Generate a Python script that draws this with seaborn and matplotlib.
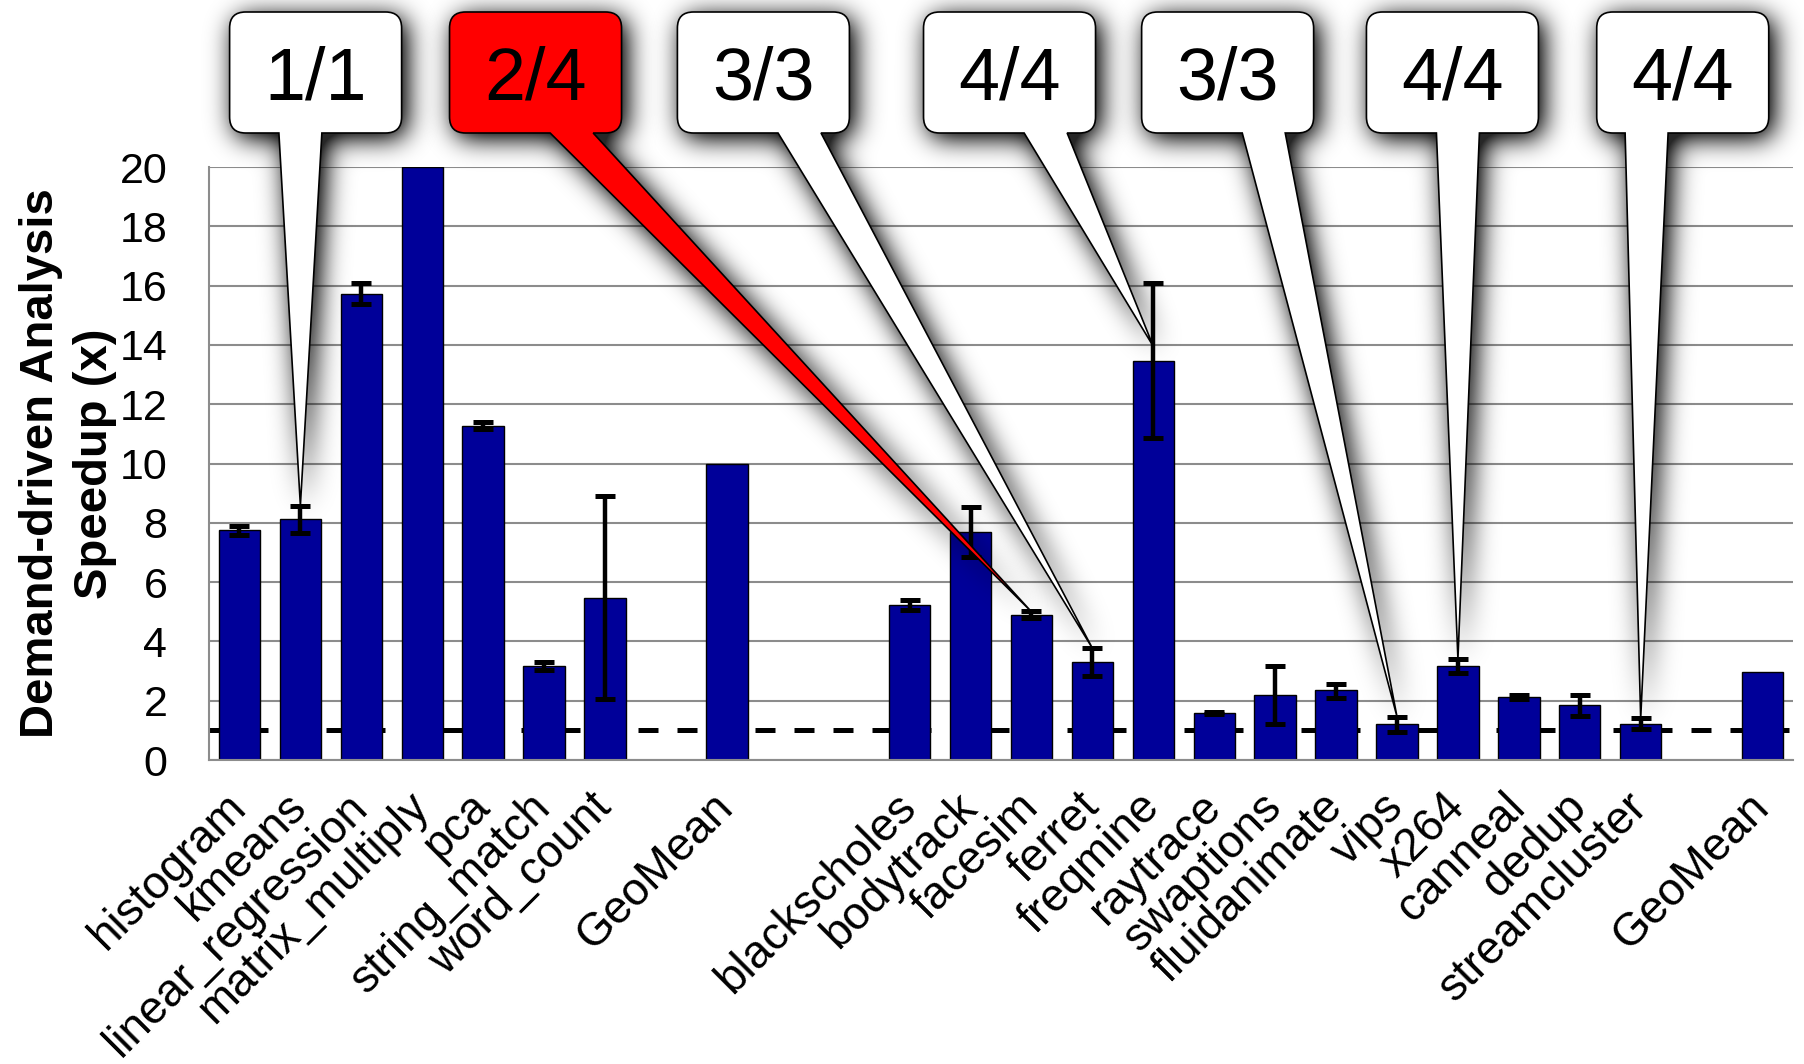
import matplotlib

matplotlib.use("Agg")
import matplotlib.pyplot as plt
import numpy as np
import pandas as pd
import seaborn as sns
from matplotlib.patches import PathPatch
from matplotlib.path import Path

# --------------------------------------------------------------------- #
# Data
# --------------------------------------------------------------------- #
PHOENIX_BENCH = ["histogram", "kmeans", "linear_regression", "matrix_multiply",
                 "pca", "string_match", "word_count"]
PHOENIX_SPEEDUP = [7.75, 8.12, 15.73, 20.0, 11.28, 3.16, 5.47]
PHOENIX_ERR_LOW = [7.59, 7.66, 15.37, np.nan, 11.15, 3.02, 2.05]
PHOENIX_ERR_HIGH = [7.90, 8.58, 16.10, np.nan, 11.40, 3.31, 8.89]
PHOENIX_GEOMEAN = 10.0

PARSEC_BENCH = ["blackscholes", "bodytrack", "facesim", "ferret", "freqmine",
                "raytrace", "swaptions", "fluidanimate", "vips", "x264",
                "canneal", "dedup", "streamcluster"]
PARSEC_SPEEDUP = [5.24, 7.68, 4.88, 3.31, 13.47, 1.58, 2.20, 2.35, 1.20, 3.18,
                  2.13, 1.84, 1.22]
PARSEC_ERR_LOW = [5.07, 6.85, 4.79, 2.84, 10.87, 1.54, 1.22, 2.09, 0.95, 2.95,
                  2.07, 1.48, 1.06]
PARSEC_ERR_HIGH = [5.40, 8.54, 5.01, 3.77, 16.10, 1.63, 3.16, 2.58, 1.46, 3.41,
                   2.18, 2.20, 1.40]
PARSEC_GEOMEAN = 2.97

BASELINE = 1.0

# callouts: text, benchmark pointed at, y value of the pointer tip
CALLOUT_TEXT = ["1/1", "2/4", "3/3", "4/4", "3/3", "4/4", "4/4"]
CALLOUT_TARGET = ["kmeans", "facesim", "ferret", "freqmine", "vips", "x264",
                  "streamcluster"]
CALLOUT_TIP = [8.58, 5.0, 3.77, 13.95, 1.46, 3.41, 1.40]
CALLOUT_HIGHLIGHT = [False, True, False, False, False, False, False]
# layout: box centres in category-slot units
CALLOUT_CENTER = [1.25, 4.86, 8.60, 12.64, 16.22, 19.91, 23.69]

# --------------------------------------------------------------------- #
# Style
# --------------------------------------------------------------------- #
BAR_COLOR = "#000099"
GRID_COLOR = "#8c8c8c"
DPI = 100

sns.set_style("white")
plt.rcParams["font.family"] = ["Liberation Sans", "DejaVu Sans"]
plt.rcParams["text.color"] = "black"
plt.rcParams["axes.labelcolor"] = "black"


def soft_shadow(im, dpi, pad=55, sigma=13, shift=(5, 5), strength=1.2):
    """agg filter: blurred, offset copy of the artist's alpha channel."""
    alpha = np.pad(im[..., 3], pad)
    k = np.exp(-0.5 * (np.arange(-3 * sigma, 3 * sigma + 1) / sigma) ** 2)
    k /= k.sum()
    alpha = np.apply_along_axis(np.convolve, 0, alpha, k, mode="same")
    alpha = np.apply_along_axis(np.convolve, 1, alpha, k, mode="same")
    out = np.zeros(alpha.shape + (4,))
    out[..., 3] = np.clip(alpha * strength, 0, 0.85)
    return out, -pad + shift[0], -pad - shift[1]


def callout_path(left, bottom, width, height, r, base_lo, base_hi, tip):
    L, B, R, T = left, bottom, left + width, bottom + height
    verts = [(L + r, T), (R - r, T), (R, T), (R, T - r), (R, B + r), (R, B),
             (R - r, B), (base_hi, B), tip, (base_lo, B), (L + r, B), (L, B),
             (L, B + r), (L, T - r), (L, T), (L + r, T), (L + r, T)]
    codes = [Path.MOVETO, Path.LINETO, Path.CURVE3, Path.CURVE3, Path.LINETO,
             Path.CURVE3, Path.CURVE3, Path.LINETO, Path.LINETO, Path.LINETO,
             Path.LINETO, Path.CURVE3, Path.CURVE3, Path.LINETO, Path.CURVE3,
             Path.CURVE3, Path.CLOSEPOLY]
    return np.array(verts, dtype=float), codes


def main() -> None:
    order = (PHOENIX_BENCH + ["_gap1", "Phoenix GeoMean", "_gap2", "_gap3"]
             + PARSEC_BENCH + ["_gap4", "PARSEC GeoMean"])
    tick_text = ["" if k.startswith("_") else ("GeoMean" if "GeoMean" in k else k)
                 for k in order]

    df = pd.DataFrame({
        "bench": PHOENIX_BENCH + ["Phoenix GeoMean"] + PARSEC_BENCH + ["PARSEC GeoMean"],
        "speedup": PHOENIX_SPEEDUP + [PHOENIX_GEOMEAN] + PARSEC_SPEEDUP + [PARSEC_GEOMEAN],
        "lo": PHOENIX_ERR_LOW + [np.nan] + PARSEC_ERR_LOW + [np.nan],
        "hi": PHOENIX_ERR_HIGH + [np.nan] + PARSEC_ERR_HIGH + [np.nan],
    })
    df["pos"] = [order.index(b) for b in df["bench"]]

    fig = plt.figure(figsize=(18.04, 10.64), dpi=DPI)
    ax = fig.add_axes([209 / 1804, 304 / 1064, 1584 / 1804, 593 / 1064])

    sns.barplot(data=df, x="bench", y="speedup", order=order, color=BAR_COLOR,
                saturation=1, width=0.68, edgecolor="black", linewidth=1,
                errorbar=None, ax=ax, zorder=2)

    err = df.dropna(subset=["lo", "hi"])
    ax.errorbar(err["pos"], err["speedup"],
                yerr=[err["speedup"] - err["lo"], err["hi"] - err["speedup"]],
                fmt="none", ecolor="black", elinewidth=3.2, capsize=7.5,
                capthick=3.6, zorder=3)

    ax.axhline(BASELINE, color="black", lw=3.6, dashes=(4, 3.8), zorder=1.5)

    # axes cosmetics
    ax.set_xlim(-0.5, len(order) - 0.5)
    ax.set_ylim(0, 20)
    ax.set_yticks(np.arange(0, 21, 2))
    ax.set_yticks(np.arange(1, 20, 2), minor=True)
    ax.set_xticks(range(len(order)), labels=tick_text, rotation=45, ha="right",
                  va="center", rotation_mode="anchor", fontsize=33)
    ax.set_xticks(np.arange(-0.5, len(order), 1), minor=True)
    ax.tick_params(axis="x", which="major", length=0, pad=29,
                   labelcolor="black")
    ax.tick_params(axis="x", which="minor", direction="out", length=9.5,
                   width=1.5, color=GRID_COLOR)
    ax.tick_params(axis="y", which="major", direction="out", length=10,
                   width=1.5, color=GRID_COLOR, pad=20, labelsize=31,
                   labelcolor="black")
    ax.tick_params(axis="y", which="minor", direction="in", length=7,
                   width=1.5, color=GRID_COLOR)
    ax.set_xlabel("")
    ax.set_ylabel("Demand-driven Analysis\nSpeedup (x)", fontsize=34,
                  fontweight="bold", linespacing=1.3, color="black")
    ax.yaxis.set_label_coords(-0.058, 0.5)
    ax.yaxis.grid(True, color=GRID_COLOR, lw=1.5)
    ax.xaxis.grid(False)
    ax.set_axisbelow(True)
    for side in ["top", "right"]:
        ax.spines[side].set_visible(False)
    for side in ["left", "bottom"]:
        ax.spines[side].set_color(GRID_COLOR)
        ax.spines[side].set_linewidth(1.5)

    # callouts, built in pixel space then mapped to data space
    box_w, box_h, box_r, base_half = 172, 121, 16, 21.5
    box_bottom = 1064 - 133
    to_data = ax.transData.inverted()
    for text, target, tip_y, hot, cx in zip(CALLOUT_TEXT, CALLOUT_TARGET,
                                              CALLOUT_TIP, CALLOUT_HIGHLIGHT,
                                              CALLOUT_CENTER):
        box_cx = ax.transData.transform((cx, 0))[0]
        left = box_cx - box_w / 2
        tip = ax.transData.transform((order.index(target), tip_y))
        base_c = np.clip(tip[0], left + 0.29 * box_w, left + 0.71 * box_w)
        verts, codes = callout_path(left, box_bottom, box_w, box_h, box_r,
                                    base_c - base_half, base_c + base_half,
                                    tuple(tip))
        path = Path(to_data.transform(verts), codes)

        shadow = PathPatch(path, facecolor="black", edgecolor="none",
                           clip_on=False, zorder=4)
        shadow.set_agg_filter(soft_shadow)
        ax.add_patch(shadow)
        ax.add_patch(PathPatch(path, facecolor="#ff0000" if hot else "white",
                               edgecolor="black", lw=1.2, clip_on=False,
                               zorder=5))
        cxd, cyd = to_data.transform((box_cx, box_bottom + box_h / 2))
        ax.text(cxd, cyd, text, ha="center", va="center_baseline", fontsize=53,
                color="black", zorder=6, clip_on=False)

    fig.savefig("out.png", dpi=DPI)
    plt.close(fig)


if __name__ == "__main__":
    main()
